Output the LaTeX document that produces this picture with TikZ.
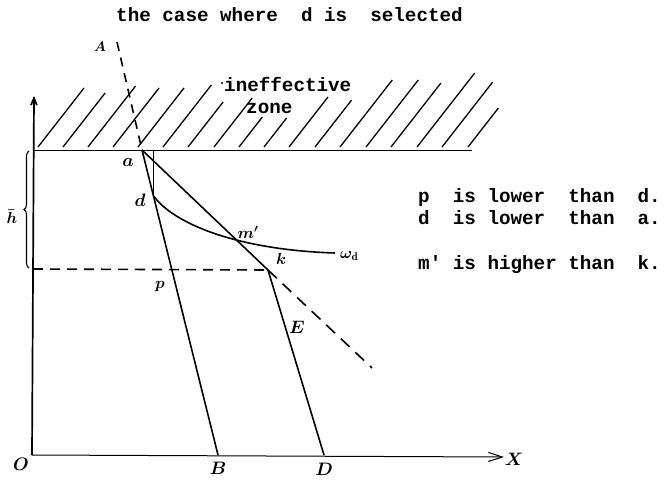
\RequirePackage{fix-cm}
\documentclass[tikz,border=0pt]{standalone}
\usepackage{fontspec}
\newfontfamily\twfont{Liberation Mono}
\usetikzlibrary{arrows.meta,decorations.pathreplacing}
\begin{document}
\begin{tikzpicture}[x=1pt,y=-1pt,
  mainline/.style={line width=1.6pt},
  hatch/.style={line width=1.3pt},
  tw/.style={font=\twfont\bfseries\fontsize{19.25}{21}\selectfont, anchor=base west, inner sep=0pt},
  biglbl/.style={font=\fontsize{18}{20}\selectfont\boldmath, inner sep=0pt},
  midlbl/.style={font=\fontsize{16}{18}\selectfont\boldmath, inner sep=0pt},
  smalllbl/.style={font=\fontsize{14}{16}\selectfont\boldmath, inner sep=0pt},
  ]
\useasboundingbox (0,0) rectangle (668,487);

% key points
\coordinate (O) at (32,455);
\coordinate (ytop) at (34,96);
\coordinate (xend) at (504,457);
\coordinate (ceilL) at (33,150);
\coordinate (ceilR) at (472,150);
\coordinate (a) at (142,150);
\coordinate (Atop) at (117,42);
\coordinate (B) at (218,455);
\coordinate (d) at (153.5,196);
\coordinate (dtop) at (153.5,150);
\coordinate (k) at (268,270);
\coordinate (kext) at (372,368);
\coordinate (D) at (324,455);
\coordinate (hL) at (33,269);
\coordinate (wd) at (335,253);

% hatching of the ineffective zone
\foreach \xb/\yt in {38/88,63/93,88/86,113/88,138/88,163/85,188/102,214/98,239/117,264/118,289/97,315/100,340/80,366/80,391/83,417/73,442/82,468/108}
  \draw[hatch] (\xb,147) -- ({\xb+0.78*(147-\yt)},\yt);

% axes
\draw[line width=1.7pt,-{Straight Barb[length=7pt,width=6pt]}] (O) -- (ytop);
\draw[line width=1pt,-{Straight Barb[length=14pt,width=9pt]}] (O) -- (xend);

% ceiling
\draw[line width=0.9pt] (ceilL) -- (ceilR);

% lines
\draw[mainline, dash pattern=on 9pt off 7pt] (Atop) -- (a);
\draw[mainline] (a) -- (B);
\draw[line width=1.3pt] (dtop) -- (d);
\draw[mainline] (a) -- (k);
\draw[mainline, dash pattern=on 12pt off 8pt] (k) -- (kext);
\draw[mainline] (k) -- (D);
\draw[mainline, dash pattern=on 10pt off 7pt] (hL) -- (k);
\draw[mainline] (d) .. controls (175,225) and (240,250) .. (wd);

% brace
\draw[line width=1.1pt, decorate, decoration={brace, amplitude=5pt}] (29,268) -- (29,151);

% labels
\node[smalllbl] (lA) at (100,47) {$A$};
\node[smalllbl] (lL) at (22,107) {$\mathit{\Lambda}$};
\node[biglbl] (la) at (128,162) {$a$};
\node[biglbl] (ld) at (140,200) {$d$};
\node[midlbl] (lm) at (248,232) {$m'$};
\node[midlbl, anchor=west] (lw) at (340,256) {$\omega_{\mathrm{d}}$};
\node[midlbl] (lk) at (281,259) {$k$};
\node[midlbl] (lp) at (160,286) {$p$};
\node[biglbl] (lE) at (297,327) {$E$};
\node[biglbl] (lB) at (218,468) {$B$};
\node[biglbl] (lD) at (324,469) {$D$};
\node[biglbl] (lO) at (21,464) {$O$};
\node[biglbl] (lX) at (514,459) {$X$};
\node[midlbl] (lh) at (12,217) {$\bar h$};

% texts
\node[tw] (title) at (116,22) {the case where\ \ d\ is\ \ selected};
\fill (310,14) circle (1.1pt);
\node[tw] (ineff) at (224,91) {ineffective};
\fill (222,83) circle (1.1pt);
\node[tw] (zone) at (246,113) {zone};
\node[tw] (t1) at (418,202) {p\ \ is lower\ \ than\ \ d.};
\node[tw] (t2) at (418,224) {d\ \ is lower\ \ than\ \ a.};
\node[tw] (t3) at (418,269) {m\textquotesingle\ is higher than\ \ k.};
\end{tikzpicture}
\end{document}
